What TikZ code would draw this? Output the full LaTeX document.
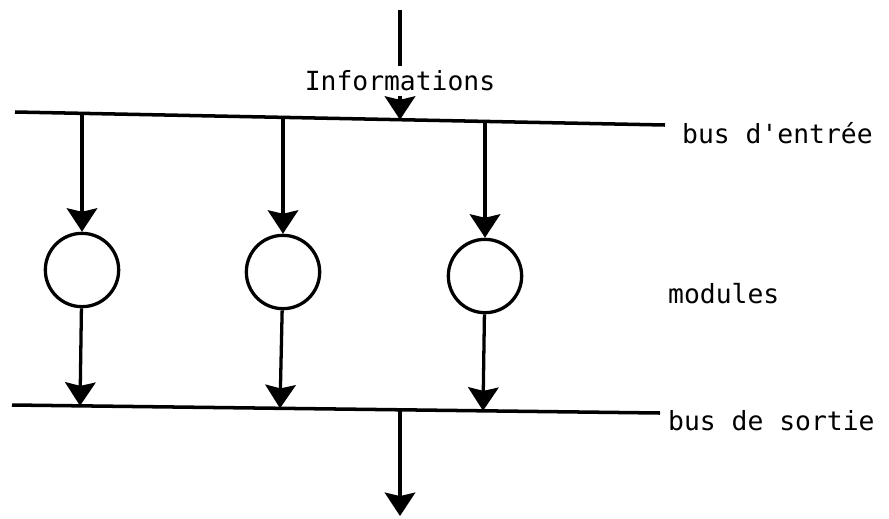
\documentclass[tikz,border=0pt]{standalone}
\usepackage{fontspec}
\setmonofont{DejaVu Sans Mono}
\usetikzlibrary{arrows.meta}

\tikzstyle{module} = [circle, draw, line width=2.8pt, minimum size=2.2cm, inner sep=0pt]
\tikzstyle{bus} = [line width=3pt]
\tikzstyle{flow} = [line width=2.8pt, -{Stealth[width=26pt,length=20pt,inset=3pt]}]
\tikzstyle{txt} = [font=\ttfamily\fontsize{22.5}{26}\selectfont, inner sep=0pt, anchor=west]

\begin{document}
\begin{tikzpicture}[x=0.03cm, y=-0.03cm]
\useasboundingbox (0,0) rectangle (889,518);

% bus d'entree
\coordinate (inL) at (15,112);
\coordinate (inR) at (665,125);
\coordinate (in1) at (82,113.3);
\coordinate (in2) at (283,117.4);
\coordinate (in3) at (485,121.4);
\coordinate (inI) at (400,119.7);
\draw[bus] (inL) -- (inR);

% bus de sortie
\coordinate (outL) at (12,405);
\coordinate (outR) at (660,413);
\coordinate (out1) at (80,405.8);
\coordinate (out2) at (280,408.3);
\coordinate (out3) at (483,410.8);
\coordinate (outS) at (400,409.8);
\draw[bus] (outL) -- (outR);

% modules
\node[module] (m1) at (82,270) {};
\node[module] (m2) at (283,272) {};
\node[module] (m3) at (485,276) {};

\foreach \i in {1,2,3} {
    \draw[flow] (in\i) -- (m\i);
    \draw[flow] (m\i) -- (out\i);
}

% entree / sortie
\coordinate (src) at (400,10);
\node[txt, anchor=center, fill=white, inner sep=4pt] (info) at (400,81) {Informations};
\draw[line width=2.8pt] (src) -- (info.north);
\draw[flow] (info.south) -- (inI);
\coordinate (dst) at (400,516);
\draw[flow] (outS) -- (dst);

\node[txt] (lin) at (682,133) {bus d'entrée};
\node[txt] (lmod) at (668,294) {modules};
\node[txt] (lout) at (668,421) {bus de sortie};
\end{tikzpicture}
\end{document}
